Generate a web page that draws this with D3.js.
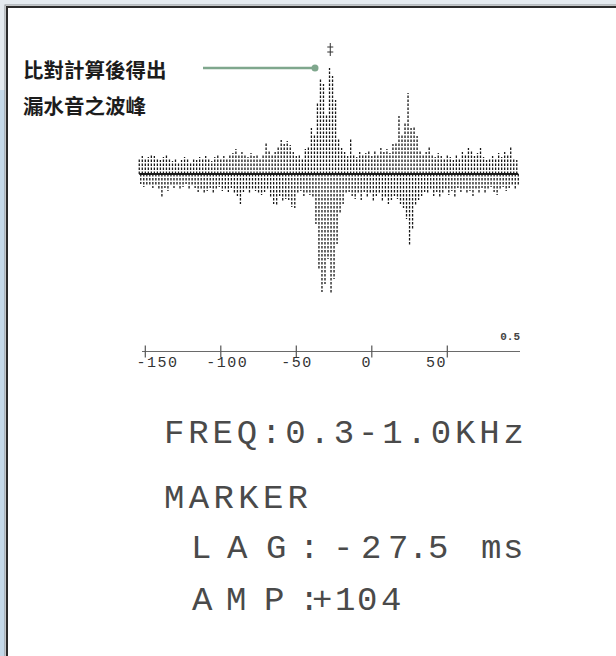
<!DOCTYPE html>
<html>
<head>
<meta charset="utf-8">
<script src="https://cdn.jsdelivr.net/npm/d3@7"></script>
<style>
  body { margin: 0; background: #e3e9ee; }
  svg { display: block; }
</style>
</head>
<body>
<svg id="chart" width="616" height="656"></svg>
<script>
// correlation printout, one sample every 2 ms starting at -154 ms
const LAG_START = -154;
const LAG_STEP = 2;
// positive swing of each sample
const upperVals = [
  16, 18, 15, 17, 20, 18, 15, 14, 17, 19, 15, 13, 16, 12, 14, 17, 15, 12, 16, 14,
  17, 15, 18, 16, 13, 17, 19, 15, 18, 16, 20, 21, 25, 20, 22, 19, 17, 21, 18, 20,
  16, 19, 31, 24, 20, 22, 27, 34, 30, 33, 29, 22, 18, 20, 16, 25, 28, 46, 40, 72,
  95, 90, 60, 106, 98, 74, 35, 26, 22, 18, 36, 20, 17, 22, 19, 21, 24, 18, 23, 20,
  26, 22, 25, 21, 30, 32, 58, 40, 52, 81, 46, 47, 38, 24, 20, 22, 27, 19, 17, 21,
  18, 16, 20, 17, 14, 19, 16, 22, 19, 26, 23, 18, 21, 26, 17, 14, 16, 18, 15, 21,
  17, 22, 19, 27, 16, 14
];
// negative swing of each sample
const lowerVals = [
  10, 13, 12, 11, 14, 12, 16, 23, 14, 17, 12, 14, 11, 15, 13, 10, 16, 12, 14, 18,
  15, 20, 17, 14, 19, 16, 13, 17, 15, 18, 14, 19, 22, 30, 18, 16, 20, 15, 17, 19,
  21, 18, 16, 23, 30, 31, 22, 28, 25, 26, 33, 34, 20, 17, 22, 19, 21, 24, 50, 95,
  118, 110, 85, 119, 105, 70, 40, 30, 20, 18, 22, 25, 19, 26, 18, 24, 20, 27, 22, 19,
  28, 24, 30, 26, 22, 25, 30, 34, 45, 71, 55, 32, 26, 22, 18, 20, 16, 22, 18, 24,
  19, 15, 21, 17, 23, 14, 18, 15, 20, 17, 22, 16, 19, 14, 20, 16, 13, 18, 21, 15,
  13, 17, 14, 12, 15, 11
];
const xTicks = [-150, -100, -50, 0, 50];
const scaleNote = '0.5';
const peakLag = -27.5;
const noteLines = ['比對計算後得出', '漏水音之波峰'];
const freqText = 'FREQ:0.3-1.0KHz';
const markerText = 'MARKER';
const lagText = 'LAG:-27.5 ms';
const ampText = 'AMP:+104';

const svg = d3.select('#chart');

// page frame
svg.append('rect').attr('x', 0).attr('y', 0).attr('width', 616).attr('height', 656).attr('fill', '#e4eaef');
svg.append('rect').attr('x', 0).attr('y', 90).attr('width', 6).attr('height', 566).attr('fill', '#c5d9e9');
svg.append('rect').attr('x', 5).attr('y', 5).attr('width', 700).attr('height', 700)
  .attr('fill', '#fff').attr('stroke', '#8a8f94').attr('stroke-width', 1);
svg.append('rect').attr('x', 7).attr('y', 7).attr('width', 700).attr('height', 700)
  .attr('fill', 'none').attr('stroke', '#2b2b2b').attr('stroke-width', 2);

const samples = upperVals.map((u, i) => ({
  lag: LAG_START + i * LAG_STEP,
  up: u,
  down: lowerVals[i]
}));

const x = d3.scaleLinear().domain([-150, 50]).range([145.3, 447.3]);
// the printer puts its tick labels on a slightly narrower grid
const labelX = d3.scaleLinear().domain([-150, 50]).range([157.5, 436.5]);
const y = d3.scaleLinear().domain([-130, 130]).range([304, 44]);

const wave = svg.append('g').attr('class', 'wave');

// positive swings on the sample, negative swings half a step later
wave.selectAll('.up')
  .data(samples)
  .enter()
  .append('line')
  .attr('class', 'up')
  .attr('x1', (d) => x(d.lag))
  .attr('x2', (d) => x(d.lag))
  .attr('y1', y(0))
  .attr('y2', (d) => y(d.up))
  .attr('stroke', '#000')
  .attr('stroke-width', 1.3)
  .attr('stroke-dasharray', '2.5 1.5')
  .attr('opacity', 0.9);

wave.selectAll('.down')
  .data(samples)
  .enter()
  .append('line')
  .attr('class', 'down')
  .attr('x1', (d) => x(d.lag + LAG_STEP / 2))
  .attr('x2', (d) => x(d.lag + LAG_STEP / 2))
  .attr('y1', y(0))
  .attr('y2', (d) => y(-d.down))
  .attr('stroke', '#000')
  .attr('stroke-width', 1.3)
  .attr('stroke-dasharray', '2.5 1.5')
  .attr('opacity', 0.9);

const ext = d3.extent(samples, (d) => d.lag);
wave.append('line')
  .attr('x1', x(ext[0]))
  .attr('x2', x(ext[1] + LAG_STEP / 2))
  .attr('y1', y(0))
  .attr('y2', y(0))
  .attr('stroke', '#1a1a1a')
  .attr('stroke-width', 2.2);

// peak marker above the main lobe
const mk = svg.append('g').attr('stroke', '#333').attr('stroke-width', 1);
mk.append('line').attr('x1', x(peakLag)).attr('x2', x(peakLag)).attr('y1', y(131)).attr('y2', y(118));
mk.append('line').attr('x1', x(peakLag) - 3).attr('x2', x(peakLag) + 3).attr('y1', y(127)).attr('y2', y(127));
mk.append('line').attr('x1', x(peakLag) - 3).attr('x2', x(peakLag) + 3).attr('y1', y(122)).attr('y2', y(122));

// annotation
const noteY = 68;
svg.append('line').attr('x1', 203).attr('x2', 315).attr('y1', noteY).attr('y2', noteY)
  .attr('stroke', '#7fa78d').attr('stroke-width', 2.5);
svg.append('circle').attr('cx', 315).attr('cy', noteY).attr('r', 3.5).attr('fill', '#7fa78d');
svg.selectAll('.note')
  .data(noteLines)
  .enter()
  .append('text')
  .attr('class', 'note')
  .attr('x', 23)
  .attr('y', (d, i) => 78 + i * 36)
  .style('font', '700 20.5px "Noto Sans CJK TC", sans-serif')
  .style('fill', '#1c1c1c')
  .text((d) => d);

// lag axis
const axisY = 351.5;
const ax = svg.append('g');
ax.append('line').attr('x1', 142).attr('x2', 520).attr('y1', axisY).attr('y2', axisY)
  .attr('stroke', '#6a6a6a').attr('stroke-width', 1.2);
ax.selectAll('.tick')
  .data(xTicks)
  .enter()
  .append('line')
  .attr('x1', (d) => x(d))
  .attr('x2', (d) => x(d))
  .attr('y1', axisY - 6)
  .attr('y2', axisY + 6)
  .attr('stroke', '#555')
  .attr('stroke-width', 1.2);
ax.selectAll('.tl')
  .data(xTicks)
  .enter()
  .append('text')
  .attr('x', (d) => labelX(d))
  .attr('y', 367)
  .attr('text-anchor', 'middle')
  .style('font', '15px "Liberation Mono", monospace')
  .style('letter-spacing', '1.5px')
  .style('fill', '#333')
  .text((d) => d);
ax.append('text').attr('x', 520).attr('y', 340).attr('text-anchor', 'end')
  .style('font', '700 11px "Liberation Mono", monospace').style('fill', '#444')
  .text(scaleNote);

// printer readout
const printFont = '34px "Liberation Mono", monospace';
function printText(str, x0, yb, len) {
  svg.append('text')
    .attr('x', x0)
    .attr('y', yb)
    .attr('textLength', len)
    .attr('lengthAdjust', 'spacing')
    .style('font', printFont)
    .style('fill', '#4a4a4a')
    .text(str);
}
// the printer spaces the label letters wider than the values
function printPlaced(str, xs, yb) {
  svg.append('text')
    .attr('x', xs.join(' '))
    .attr('y', yb)
    .style('font', printFont)
    .style('fill', '#4a4a4a')
    .text(str);
}
printText(freqText, 164, 443, 360);
printText(markerText, 164, 508, 144);
printPlaced(lagText, [191, 227, 266, 299, 333, 361, 388, 408, 428, 455, 481, 503], 558);
printPlaced(ampText, [192, 226, 264, 299, 312, 335, 357, 381], 610);
</script>
</body>
</html>
